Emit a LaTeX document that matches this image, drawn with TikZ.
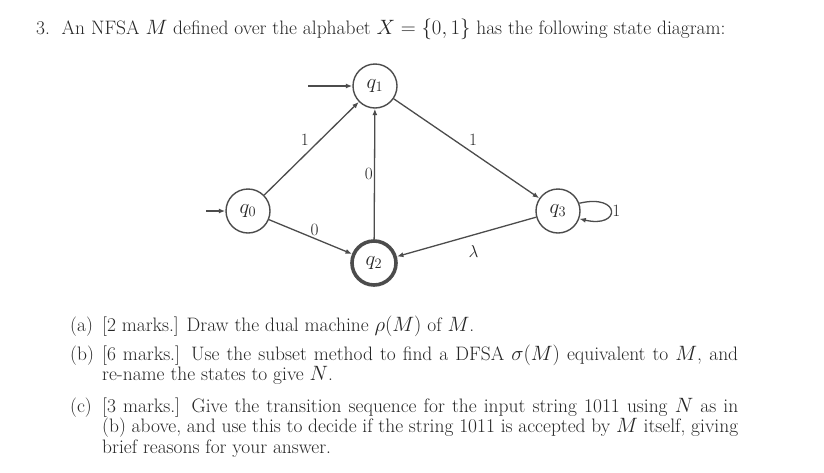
\documentclass[tikz,border=0pt]{standalone}
\usetikzlibrary{arrows.meta}
\definecolor{ink}{gray}{0.15}
\definecolor{edgec}{gray}{0.3}
\newcommand{\bodyfont}{\fontsize{19.45}{20.7}\selectfont}
\newcommand{\statefont}{\fontsize{20}{20}\selectfont}
\newcommand{\labfont}{\fontsize{19}{19}\selectfont}
\begin{document}
\begin{tikzpicture}[x=1pt,y=-1pt,
  state/.style={circle,draw=edgec,line width=1.4pt,minimum size=44pt,inner sep=0pt,font=\statefont,text=ink},
  accept/.style={state,line width=3.6pt},
  tr/.style={draw=edgec,line width=1.3pt,-{Latex[length=6.5pt,width=5pt]}},
  lab/.style={font=\labfont,text=ink,inner sep=2pt},
  txt/.style={anchor=base west,inner sep=0pt,text=ink,font=\bodyfont}]
\useasboundingbox[fill=white] (0,0) rectangle (824,472);
% title
\node[txt] (title) at (36,34) {3.\ \ An NFSA $M$ defined over the alphabet $X=\{0,1\}$ has the following state diagram:};
% states
\node[state] (q1) at (375,86) {$q_1$};
\node[state] (q0) at (248,211) {$q_0$};
\node[accept] (q2) at (374,263) {$q_2$};
\node[state] (q3) at (558,211) {$q_3$};
\coordinate (s1) at (308,86);
\coordinate (s0) at (206,211);
% transitions
\draw[tr] (s1) -- (q1);
\draw[tr] (s0) -- (q0);
\draw[tr] (q0) -- node[lab,pos=0.5,above left] {$1$} (q1);
\draw[tr] (q0) -- node[lab,pos=0.55,above] {$0$} (q2);
\draw[tr] (q2) -- node[lab,pos=0.5,left,inner sep=1pt] {$0$} (q1);
\draw[tr] (q1) -- node[lab,pos=0.5,above right] {$1$} (q3);
\draw[tr] (q3) -- node[lab,pos=0.45,below,yshift=-8pt] {$\lambda$} (q2);
\draw[tr] (q3.20) .. controls +(42,-10) and +(42,10) .. node[lab,right,inner sep=1pt] {$1$} (q3.-20);
% questions
\node[txt] (la) at (70,331) {(a)};
\node[txt] (ta) at (102,331) {\parbox[t]{636pt}{\bodyfont [2 marks.] Draw the dual machine $\rho(M)$ of $M$.}};
\node[txt] (lb) at (70,360) {(b)};
\node[txt] (tb) at (102,360) {\parbox[t]{636pt}{\bodyfont [6 marks.] Use the subset method to find a DFSA $\sigma(M)$ equivalent to $M$, and\linebreak re-name the states to give $N$.}};
\node[txt] (lc) at (70,412) {(c)};
\node[txt] (tc) at (102,412) {\parbox[t]{636pt}{\bodyfont [3 marks.] Give the transition sequence for the input string 1011 using $N$ as in\linebreak (b) above, and use this to decide if the string 1011 is accepted by $M$ itself, giving\linebreak brief reasons for your answer.}};
\end{tikzpicture}
\end{document}
